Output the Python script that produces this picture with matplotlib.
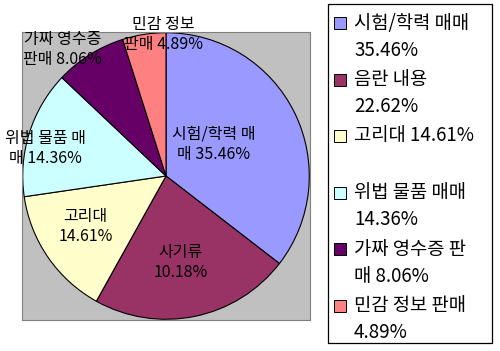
import matplotlib
matplotlib.use("Agg")
import matplotlib.pyplot as plt
from matplotlib.patches import Rectangle

plt.rcParams['font.family'] = ['Noto Sans CJK KR', 'DejaVu Sans']

categories = ["시험/학력 매매", "음란 내용", "고리대", "위법 물품 매매", "가짜 영수증 판매", "민감 정보 판매"]
values = [35.46, 22.62, 14.61, 14.36, 8.06, 4.89]
colors = ["#9999FF", "#993366", "#FFFFCC", "#CCFFFF", "#660066", "#FF8080"]
pie_labels = ["시험/학력 매\n매 35.46%", "사기류\n10.18%", "고리대\n14.61%",
              "위법 물품 매\n매 14.36%", "가짜 영수증\n판매 8.06%", "민감 정보\n판매 4.89%"]
legend_labels = ["시험/학력 매매\n35.46%", "음란 내용\n22.62%", "고리대 14.61%",
                 "위법 물품 매매\n14.36%", "가짜 영수증 판\n매 8.06%", "민감 정보 판매\n4.89%"]

W, H = 500, 351
fig = plt.figure(figsize=(W / 100, H / 100), dpi=100)

# plot area (gray square)
ax = fig.add_axes([22 / W, (H - 320) / H, 288 / W, 288 / H])
wedges, _ = ax.pie(values, colors=colors, startangle=90, counterclock=False,
                   radius=0.995, center=(0, 0), frame=True,
                   wedgeprops=dict(edgecolor="black", linewidth=0.8))
ax.set_facecolor("#C0C0C0")
for s in ax.spines.values():
    s.set_visible(True)
    s.set_color("#808080")
    s.set_linewidth(0.8)
ax.set_xticks([])
ax.set_yticks([])
ax.set_xlim(-1.0, 1.0)
ax.set_ylim(-1.0, 1.0)
ax.set_aspect("auto")

label_pos = [(0.33, 0.22), (0.10, -0.60), (-0.56, -0.35), (-0.84, 0.19), (-0.72, 0.88), (-0.02, 0.985)]
for txt, (x, y) in zip(pie_labels, label_pos):
    ax.text(x, y, txt, ha="center", va="center", fontsize=11.5, color="black",
            linespacing=1.25, clip_on=False)

# legend box
lx0, ly0, lx1, ly1 = 328, 4, 492, 343
fig.patches.append(Rectangle((lx0 / W, 1 - ly1 / H), (lx1 - lx0) / W, (ly1 - ly0) / H,
                             transform=fig.transFigure, facecolor="white",
                             edgecolor="black", linewidth=0.9))
for i, (lab, c) in enumerate(zip(legend_labels, colors)):
    yc = 23 + i * 56.5
    sq = 12
    fig.patches.append(Rectangle((334 / W, 1 - (yc + sq / 2) / H), sq / W, sq / H,
                                 transform=fig.transFigure, facecolor=c,
                                 edgecolor="black", linewidth=0.7))
    for j, line in enumerate(lab.split("\n")):
        fig.text(354 / W, 1 - (yc + j * 27.5) / H, line, ha="left", va="center",
                 fontsize=13.5, color="black")

fig.savefig("out.png", dpi=100, facecolor="white")
